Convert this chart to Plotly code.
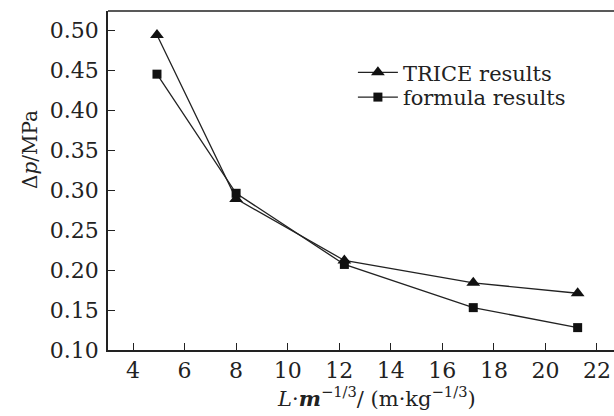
import plotly.graph_objects as go

x_vals = [4.93, 8.0, 12.2, 17.2, 21.25]
trice = [0.494, 0.289, 0.212, 0.184, 0.171]
formula = [0.445, 0.296, 0.207, 0.153, 0.128]
x_ticks = [4, 6, 8, 10, 12, 14, 16, 18, 20, 22]
y_ticks = [0.10, 0.15, 0.20, 0.25, 0.30, 0.35, 0.40, 0.45, 0.50]

FONT = "DejaVu Serif"
INK = "#222222"

fig = go.Figure()
fig.add_trace(go.Scatter(x=x_vals, y=trice, mode="lines+markers", name="TRICE results",
                         legend="legend",
                         line=dict(color=INK, width=1.3),
                         marker=dict(symbol="triangle-up", size=12, color="#111111")))
fig.add_trace(go.Scatter(x=x_vals, y=formula, mode="lines+markers", name="formula results",
                         legend="legend2",
                         line=dict(color=INK, width=1.3),
                         marker=dict(symbol="square", size=9, color="#111111")))

leg_common = dict(xanchor="left", yanchor="middle", bgcolor="rgba(0,0,0,0)",
                  font=dict(size=21, family=FONT, color=INK), itemwidth=40)

fig.update_layout(
    width=614, height=416,
    margin=dict(l=108, r=0, t=11, b=66),
    paper_bgcolor="white", plot_bgcolor="white",
    font=dict(family=FONT, color=INK, size=20),
    showlegend=True,
    legend=dict(x=0.484, y=0.818, **leg_common),
    legend2=dict(x=0.484, y=0.745, **leg_common),
    xaxis=dict(range=[3.03, 22.66], tickvals=x_ticks, ticks="inside", ticklen=7,
               tickcolor=INK, showline=True, linecolor=INK, linewidth=1.5,
               showgrid=False, zeroline=False, tickfont=dict(size=22, family=FONT, color=INK)),
    yaxis=dict(range=[0.1, 0.524], tickvals=y_ticks, ticktext=[f"{v:.2f}" for v in y_ticks],
               ticks="inside", ticklen=7, tickcolor=INK, showline=True, linecolor=INK,
               linewidth=1.5, showgrid=False, zeroline=False, ticklabelstandoff=3,
               tickfont=dict(size=22, family=FONT, color=INK)),
)

fig.add_shape(type="line", xref="paper", yref="paper", x0=0, x1=1, y0=1, y1=1,
              line=dict(color=INK, width=1.5))

fig.add_annotation(text="Δ<i>p</i>/MPa", xref="paper", yref="paper",
                   x=-0.154, y=0.59, xanchor="center", yanchor="middle",
                   textangle=-90, showarrow=False,
                   font=dict(size=20, family=FONT, color=INK))
fig.add_annotation(text="<i>L</i>·<i><b>m</b></i><sup>−1/3</sup>/ (m·kg<sup>−1/3</sup>)",
                   xref="paper", yref="paper", x=0.53, y=-0.14, xanchor="center",
                   yanchor="middle", showarrow=False,
                   font=dict(size=21, family=FONT, color=INK))

fig.write_html("out.html")
